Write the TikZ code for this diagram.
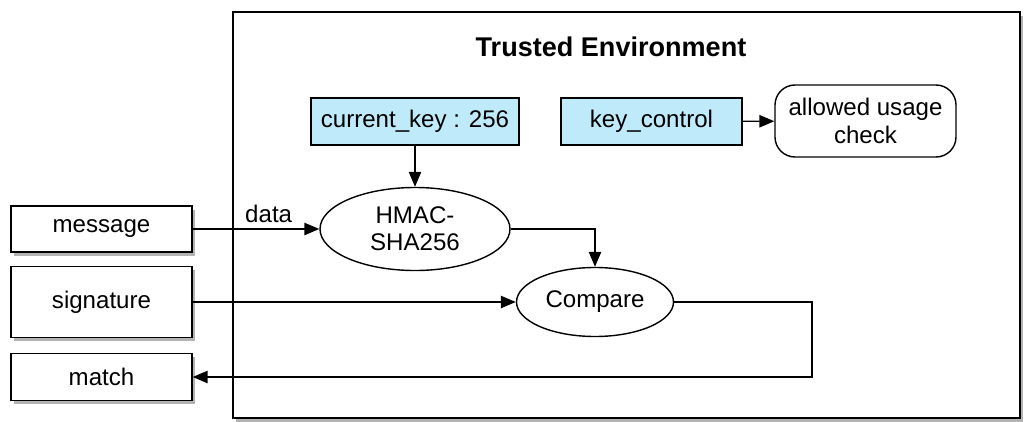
\documentclass[tikz,border=0pt]{standalone}
\usepackage{fontspec}
\setmainfont{Liberation Sans}
\usetikzlibrary{arrows.meta,shapes,shadows}
\definecolor{keyblue}{RGB}{191,234,250}

\begin{document}
\begin{tikzpicture}[
  font=\fontsize{13.7}{15.5}\selectfont,
  >={Triangle[length=8.5pt,width=7pt]},
  line/.style={thick},
  shade box/.style={drop shadow={shadow xshift=1.8pt,shadow yshift=-2.2pt,opacity=0.6}},
  outbox/.style={draw, thick, fill=white, minimum width=3.62cm, shade box},
  keybox/.style={draw, thick, fill=keyblue, minimum height=0.94cm},
  oval/.style={draw, thick, ellipse, align=center}
]
\useasboundingbox (0,0) rectangle (20.5,8.42);

% trusted area
\node[draw, thick, fill=white, minimum width=15.74cm, minimum height=8.12cm, shade box] (trusted) at (12.53,4.12) {};
\node[font=\bfseries\fontsize{15.4}{17}\selectfont] (title) at (12.22,7.48) {Trusted Environment};

\node[keybox, minimum width=4.16cm] (curkey) at (8.30,5.99) {current\_key : 256};
\node[keybox, minimum width=3.62cm] (keyctl) at (13.03,5.99) {key\_control};
\node[draw, thick, rounded corners=0.4cm, minimum width=3.62cm, minimum height=1.44cm, align=center] (usage) at (17.31,6.0) {allowed usage\\check};

\node[oval, minimum width=3.8cm, minimum height=1.66cm] (hmac) at (8.30,3.84) {HMAC-\\SHA256};
\node[oval, minimum width=3.14cm, minimum height=1.38cm] (cmp) at (11.9,2.38) {Compare};
\coordinate (corner) at (16.24,2.38);

% outside
\node[outbox, minimum height=0.92cm] (msg) at (2.03,3.84) {message};
\node[outbox, minimum height=1.42cm] (sig) at (2.03,2.38) {signature};
\node[outbox, minimum height=0.94cm] (match) at (2.03,0.88) {match};

\draw[line,->] (curkey) -- (hmac);
\draw[line,->] (keyctl) -- (usage);
\draw[line,->] (msg) -- node[pos=0.6,above] {data} (hmac);
\draw[line,->] (hmac.east) -| (cmp.north);
\draw[line,->] (sig.east) -- (cmp.west);
\draw[line,->] (cmp.east) -- (corner) |- (match.east);

\end{tikzpicture}
\end{document}
